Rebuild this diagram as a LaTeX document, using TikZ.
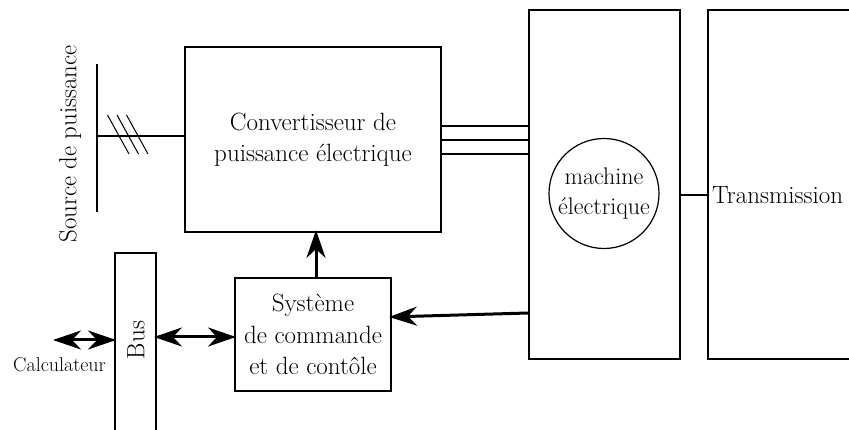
\documentclass[tikz,border=0pt]{standalone}
\usetikzlibrary{arrows.meta}
\begin{document}
\begin{tikzpicture}[x=1pt,y=-1pt,
  box/.style={draw,line width=2pt,inner sep=0pt,align=center,font=\fontsize{25}{31.5}\selectfont},
  lbl/.style={inner sep=0pt,font=\fontsize{25}{31.5}\selectfont},
  wire/.style={line width=2pt},
  arr/.style={line width=3pt,-{Stealth[length=28pt,width=19pt,inset=9pt]}},
  darr/.style={line width=3pt,{Stealth[length=28pt,width=19pt,inset=9pt]}-{Stealth[length=28pt,width=19pt,inset=9pt]}}]
\useasboundingbox (0,0) rectangle (849,430);
\clip (0,0) rectangle (849,430);
% boxes
\node[box,minimum width=256pt,minimum height=185pt] (conv) at (313,139.5) {Convertisseur de\\puissance électrique};
\node[box,minimum width=151pt,minimum height=349pt] (mach) at (604.5,184.5) {};
\node[box,minimum width=200pt,minimum height=349pt,anchor=west] (trans) at (707,184.5) {};
\node[lbl,anchor=west] (transtxt) at (712,195) {Transmission};
\node[draw,circle,line width=1.2pt,minimum size=110pt,inner sep=0pt,align=center,font=\fontsize{24}{30}\selectfont] (circ) at (604,193.5) {machine\\électrique};
\node[box,minimum width=156pt,minimum height=113pt] (sys) at (313,334.5) {Système\\de commande\\et de contôle};
\node[box,minimum width=41pt,minimum height=200pt,anchor=north] (bus) at (135.5,252) {};
\node[lbl,rotate=90] (bustxt) at (136,340) {Bus};
\node[lbl,rotate=90,font=\fontsize{24.8}{28}\selectfont] (src) at (70,144) {Source de puissance};
\node[inner sep=0pt,font=\fontsize{20}{22}\selectfont] (calc) at (59.5,365) {Calculateur};
% source
\coordinate (s1) at (97,64);
\coordinate (s2) at (97,212);
\coordinate (sm) at (97,136);
\draw[wire] (s1) -- (s2);
\draw[wire] (sm) -- (sm -| conv.west);
\foreach \dx in {0,9.5,19}{
  \draw[line width=1pt] (107.5+\dx,115) -- (129+\dx,154);
}
% three-phase lines
\foreach \yy in {126,140,154}{
  \draw[wire] (conv.east |- 0,\yy) -- (mach.west |- 0,\yy);
}
% machine - transmission
\draw[wire] (mach.east |- 0,195) -- (trans.west |- 0,195);
% control arrows
\draw[arr] ([xshift=3pt]sys.north) -- ([xshift=3pt,yshift=3pt]sys.north |- conv.south);
\draw[arr] (mach.west |- 0,313) -- ([xshift=-3pt]sys.east |- 0,317);
\draw[darr] ([xshift=-3pt]bus.east |- 0,337) -- ([xshift=2pt]sys.west |- 0,337);
\coordinate (cl) at (53,340);
\draw[darr] (cl) -- ([xshift=2pt]bus.west |- cl);
\end{tikzpicture}
\end{document}
